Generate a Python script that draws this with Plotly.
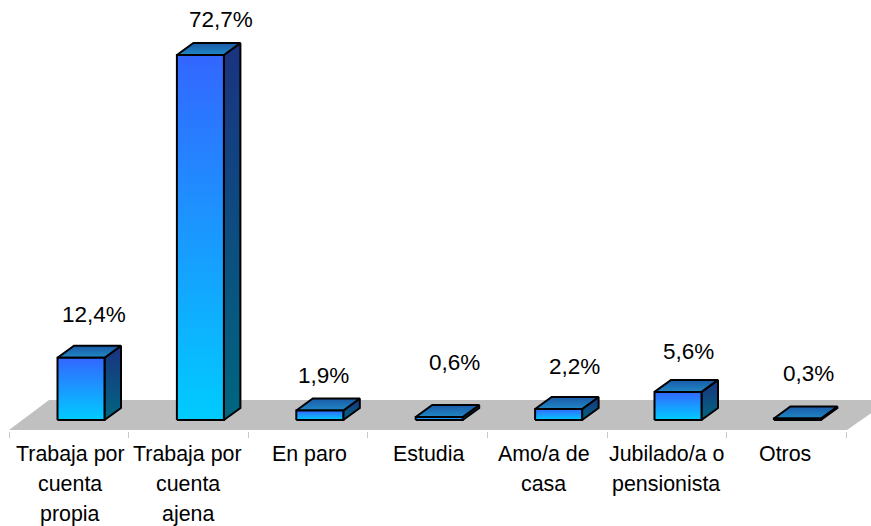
import plotly.graph_objects as go

categories = ["Trabaja por<br>cuenta<br>propia", "Trabaja por<br>cuenta<br>ajena", "En paro", "Estudia",
              "Amo/a de<br>casa", "Jubilado/a o<br>pensionista", "Otros"]
values = [12.4, 72.7, 1.9, 0.6, 2.2, 5.6, 0.3]
value_labels = ["12,4%", "72,7%", "1,9%", "0,6%", "2,2%", "5,6%", "0,3%"]

# label offsets from the top of each bar front, in px
label_dx = [13, 21, 4, 15, 16, 10.5, 11]
label_dy = [43, 36, 34.5, 54, 42, 40, 44.5]
# horizontal nudge of each category label, in px
category_dx = [0, -2, 0, 0, -4, -1, -2]

W, H = 871, 526
PX_X = 119.4        # px per category
PX_Y = 5.02         # px per unit of value
X0 = 81             # px of first bar centre
Y0 = 420            # px of value zero
HALF = 23.5 / PX_X
DX = 16.5 / PX_X
DY = 12 / PX_Y


def px(x):
    return (x - X0) / PX_X


def py(y):
    return (Y0 - y) / PX_Y


fig = go.Figure()


def poly(xs, ys, colors=None, line=True, solid=None):
    kw = dict(x=xs + xs[:1], y=ys + ys[:1], mode="lines", fill="toself", hoverinfo="skip", showlegend=False,
              line=dict(color="#000000", width=2 if line else 0))
    if colors:
        kw["fillgradient"] = dict(type="vertical", colorscale=[[0, colors[0]], [1, colors[1]]])
        kw["fillcolor"] = colors[1]
    else:
        kw["fillcolor"] = solid
    fig.add_trace(go.Scatter(**kw))


# floor
poly([px(9), px(49), px(890), px(847)], [py(430), py(400), py(400), py(430)], line=False, solid="#c0c0c0")

for i, v in enumerate(values):
    l, r = i - HALF, i + HALF
    # side
    poly([r, r + DX, r + DX, r], [0, DY, v + DY, v], colors=("#006680", "#1a3380"))
    # top
    poly([l, r, r + DX, l + DX], [v, v, v + DY, v + DY], colors=("#2088c4", "#1a5aa8"))
    # front
    poly([l, r, r, l], [0, 0, v, v], colors=("#00ccff", "#3366ff"))

annotations = []
for i, (v, t) in enumerate(zip(values, value_labels)):
    annotations.append(dict(x=i, y=v, text=t, showarrow=False, xshift=label_dx[i], yshift=label_dy[i],
                            font=dict(family="Liberation Sans", size=22.5, color="#000000"),
                            xanchor="center", yanchor="middle"))

# category labels: one text per line, with the reference's wide leading
for i, c in enumerate(categories):
    for j, line in enumerate(c.split("<br>")):
        annotations.append(dict(x=i - 0.09, y=0, text=line, showarrow=False, xshift=category_dx[i],
                                yshift=-(34 + 30 * j),
                                font=dict(family="Liberation Sans", size=21.4, color="#000000"),
                                xanchor="center", yanchor="middle"))

boundaries = [px(9 + k * 119.6) for k in range(8)]

fig.update_layout(
    width=W, height=H, margin=dict(l=0, r=0, t=0, b=0), autosize=False,
    paper_bgcolor="#ffffff", plot_bgcolor="#ffffff", showlegend=False,
    annotations=annotations,
    xaxis=dict(range=[px(0), px(W)], tickmode="array", tickvals=boundaries, ticktext=[""] * 8,
               ticks="outside", ticklen=6, tickcolor="#c8c8c8", tickwidth=1,
               showgrid=False, zeroline=False, showline=False, anchor="free", position=(H - 431) / H,
               fixedrange=True),
    yaxis=dict(range=[py(H), py(0)], visible=False, showgrid=False, zeroline=False, fixedrange=True),
)

fig.write_html("out.html", config={"displayModeBar": False},
               post_script="document.body.style.margin='0';document.body.style.overflow='hidden';")
